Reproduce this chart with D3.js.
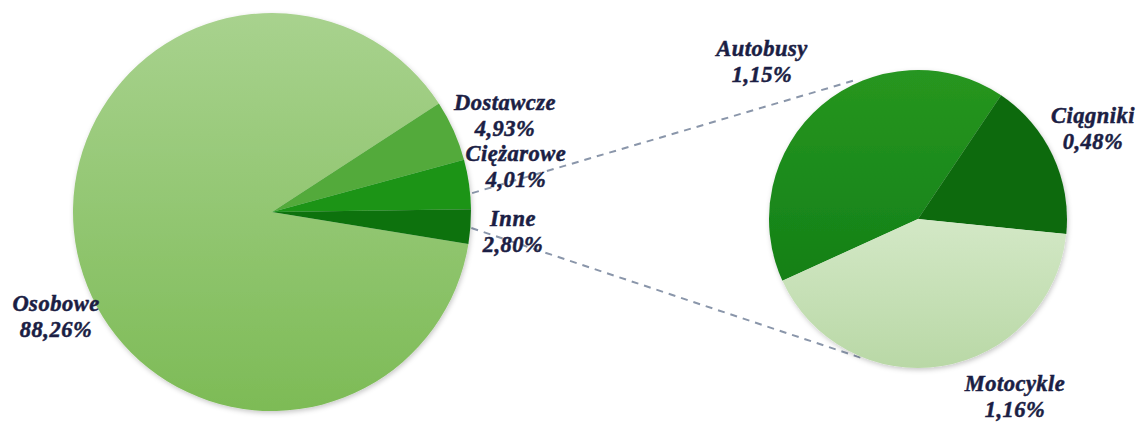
<!DOCTYPE html>
<html>
<head>
<meta charset="utf-8">
<script src="https://cdn.jsdelivr.net/npm/d3@7/dist/d3.min.js"></script>
<style>
  html, body { margin: 0; padding: 0; background: #ffffff; }
  svg { display: block; }
</style>
</head>
<body>
<svg id="chart" width="1139" height="423"></svg>
<script>
// ---- data ----
const mainCategories = ["Osobowe", "Dostawcze", "Ciężarowe", "Inne"];
const mainValues = [88.26, 4.93, 4.01, 2.80];
const mainLabels = ["88,26%", "4,93%", "4,01%", "2,80%"];

const subCategories = ["Autobusy", "Ciągniki", "Motocykle"];
const subValues = [1.15, 0.48, 1.16];
const subLabels = ["1,15%", "0,48%", "1,16%"];

// ---- layout ----
const W = 1139, H = 423;
const mainCenter = [272, 212], mainR = 199;
const subCenter = [918, 219], subR = 149;
const deg = Math.PI / 180;
const mainStart = 57 * deg - 2 * Math.PI * (mainValues[0] / d3.sum(mainValues));
const subStart = -114.5 * deg;

const mainColors = ["url(#gMain)", "#53aa3a", "#1c9418", "#0f7210"];
const subColors = ["url(#gBus)", "#0c6a0e", "url(#gMoto)"];

// label anchor positions (centre x, first baseline y)
const mainLabelPos = [[56, 311], [505, 110], [516, 161], [513, 226]];
const subLabelPos = [[762, 56], [1093, 123], [1015, 391]];
const lineGap = 26;

const svg = d3.select("#chart");
const defs = svg.append("defs");

function vgrad(id, c1, c2) {
  const g = defs.append("linearGradient").attr("id", id)
    .attr("x1", 0).attr("y1", 0).attr("x2", 0).attr("y2", 1);
  g.append("stop").attr("offset", "0%").attr("stop-color", c1);
  g.append("stop").attr("offset", "100%").attr("stop-color", c2);
}
vgrad("gMain", "#a8d28e", "#7dbb56");
vgrad("gBus", "#279620", "#138017");
vgrad("gMoto", "#d3e8c6", "#b9d8a6");

const f = defs.append("filter").attr("id", "shadow")
  .attr("x", "-10%").attr("y", "-10%").attr("width", "120%").attr("height", "120%");
f.append("feDropShadow").attr("dx", 1).attr("dy", 2).attr("stdDeviation", 2.5)
  .attr("flood-color", "#000").attr("flood-opacity", 0.22);

// ---- pies ----
const mainPie = d3.pie().sort(null).startAngle(mainStart).endAngle(mainStart + 2 * Math.PI);
const subPie = d3.pie().sort(null).startAngle(subStart).endAngle(subStart + 2 * Math.PI);
const mainArc = d3.arc().innerRadius(0).outerRadius(mainR);
const subArc = d3.arc().innerRadius(0).outerRadius(subR);

const mainArcs = mainPie(mainValues);
const subArcs = subPie(subValues);

// ---- connector lines ----
function polar(c, r, a) { return [c[0] + r * Math.sin(a), c[1] - r * Math.cos(a)]; }
const connectors = [
  [polar(mainCenter, mainR + 2, 84.6 * deg), polar(subCenter, subR + 3, -23.2 * deg)],
  [polar(mainCenter, mainR + 1, 94.6 * deg), polar(subCenter, subR + 1, 202 * deg)]
];
svg.append("g").selectAll("line").data(connectors).join("line")
  .attr("x1", d => d[0][0]).attr("y1", d => d[0][1])
  .attr("x2", d => d[1][0]).attr("y2", d => d[1][1])
  .attr("stroke", "#8a96aa").attr("stroke-width", 2)
  .attr("stroke-dasharray", "7,6");

const gMain = svg.append("g").attr("transform", `translate(${mainCenter})`).attr("filter", "url(#shadow)");
gMain.selectAll("path").data(mainArcs).join("path")
  .attr("d", mainArc).attr("fill", (d, i) => mainColors[i]);

const gSub = svg.append("g").attr("transform", `translate(${subCenter})`).attr("filter", "url(#shadow)");
gSub.selectAll("path").data(subArcs).join("path")
  .attr("d", subArc).attr("fill", (d, i) => subColors[i]);

// ---- labels ----
function addLabels(cats, labs, pos) {
  const t = svg.append("g").selectAll("text").data(cats).join("text")
    .attr("text-anchor", "middle")
    .attr("font-family", "'Liberation Serif', 'DejaVu Serif', serif")
    .attr("font-weight", "bold").attr("font-style", "italic")
    .attr("font-size", 22.5).attr("fill", "#1b1e44")
    .attr("stroke", "#1b1e44").attr("stroke-width", 0.5)
    .attr("letter-spacing", 0.5);
  t.append("tspan").attr("x", (d, i) => pos[i][0]).attr("y", (d, i) => pos[i][1]).text(d => d);
  t.append("tspan").attr("x", (d, i) => pos[i][0]).attr("y", (d, i) => pos[i][1] + lineGap).text((d, i) => labs[i]);
}
addLabels(mainCategories, mainLabels, mainLabelPos);
addLabels(subCategories, subLabels, subLabelPos);
</script>
</body>
</html>
